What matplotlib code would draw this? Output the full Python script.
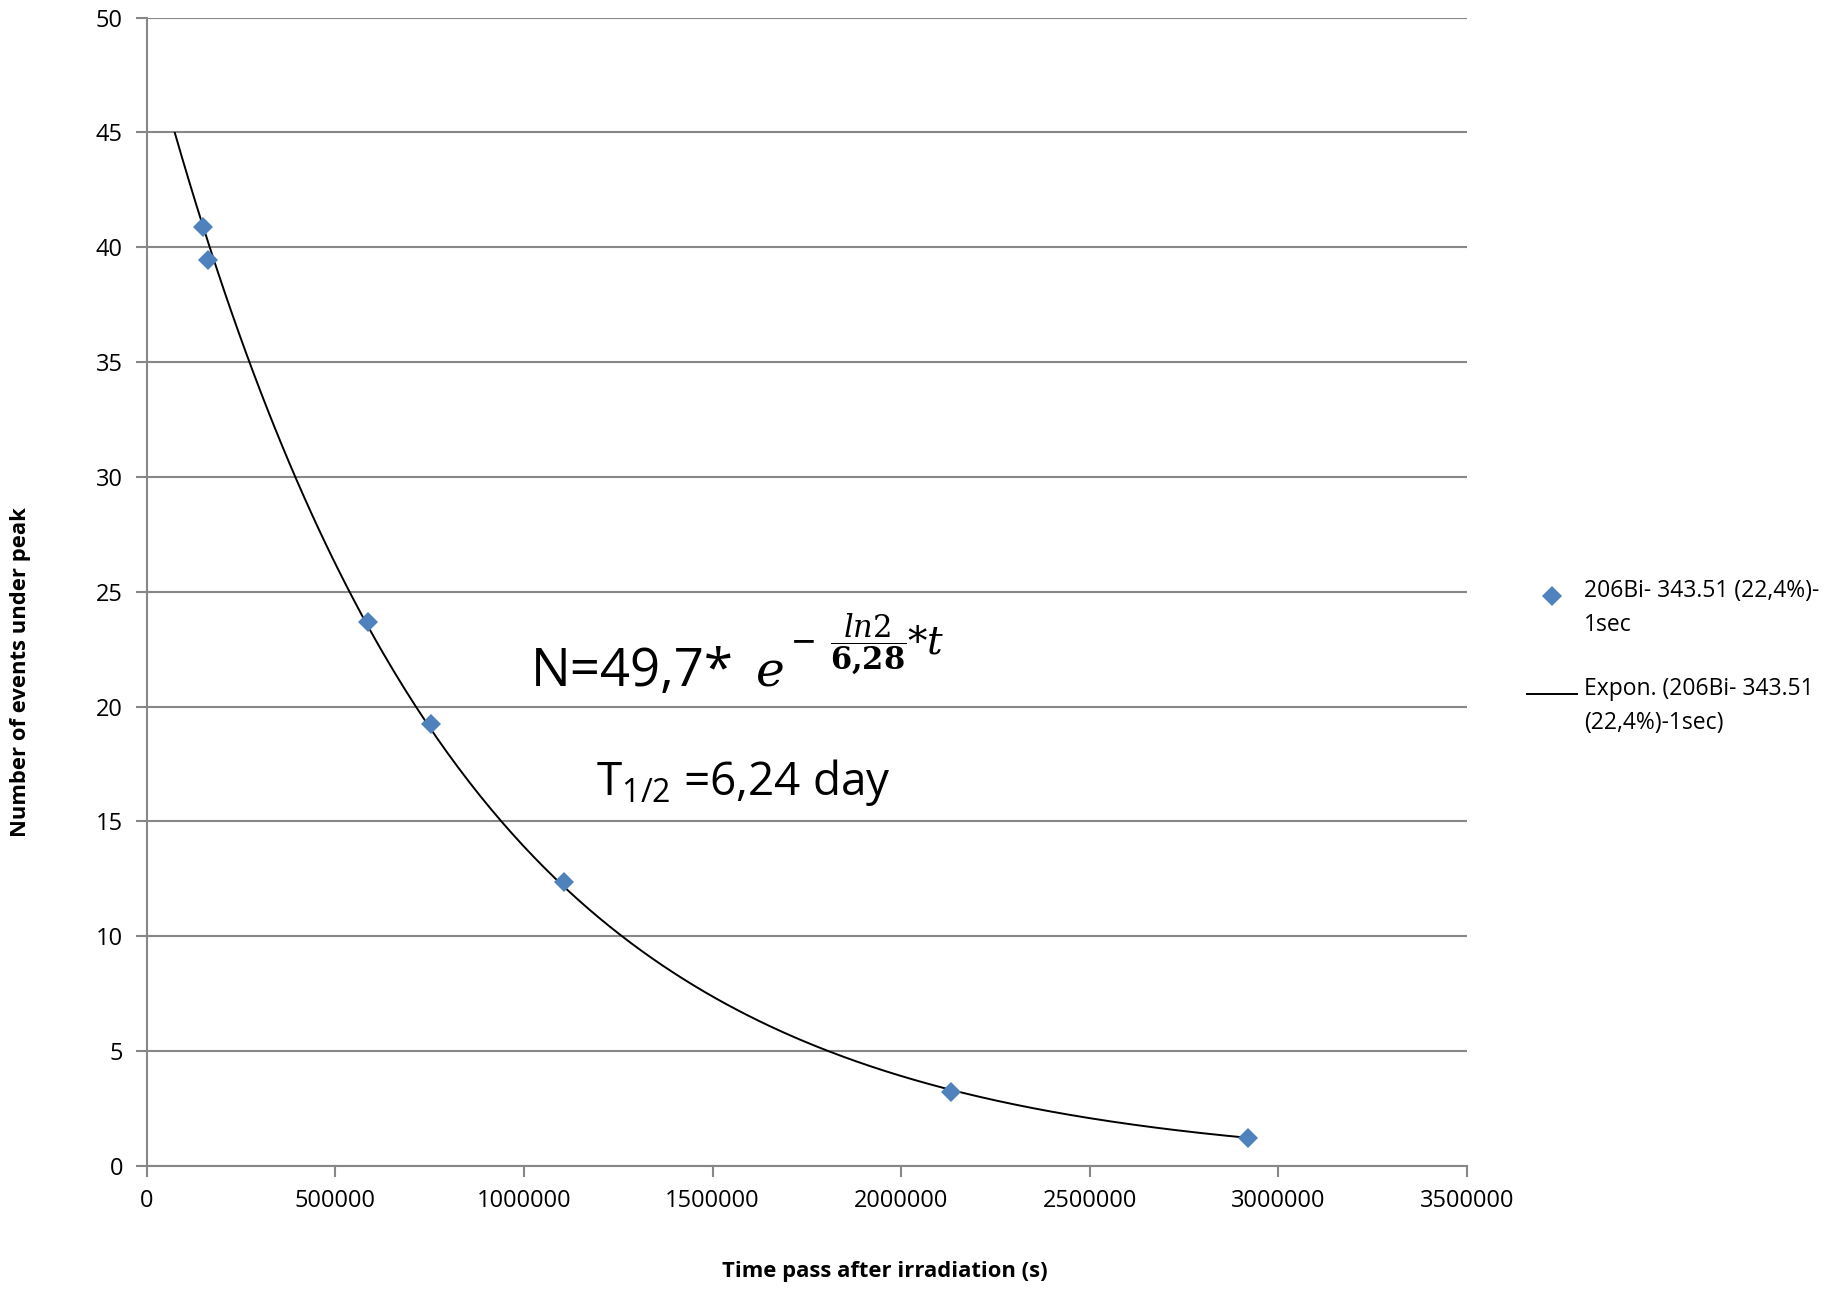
"""
Decaimiento 206Bi: eventos bajo el pico vs tiempo tras irradiación
"""

import numpy as np
import matplotlib.pyplot as plt
from matplotlib.lines import Line2D

plt.rcParams['font.family'] = ['Open Sans', 'DejaVu Sans']
plt.rcParams['mathtext.fontset'] = 'custom'
plt.rcParams['mathtext.rm'] = 'Open Sans'

# datos
time_s = [149000, 161600, 587300, 755100, 1106300, 2131700, 2918000]
events = [40.9, 39.43, 23.70, 19.25, 12.36, 3.22, 1.23]
trend_start = 75000

series_label = '206Bi- 343.51 (22,4%)-\n1sec'
trend_label = 'Expon. (206Bi- 343.51\n(22,4%)-1sec)'

x_ticks = [0, 500000, 1000000, 1500000, 2000000, 2500000, 3000000, 3500000]
y_ticks = [0, 5, 10, 15, 20, 25, 30, 35, 40, 45, 50]

GRID = '#878787'
BLUE = '#4F81BD'

# ajuste exponencial (como la línea de tendencia de Excel)
x = np.array(time_s, dtype=float)
y = np.array(events, dtype=float)
slope, icpt = np.polyfit(x, np.log(y), 1)
xt = np.linspace(trend_start, x.max(), 300)
yt = np.exp(icpt) * np.exp(slope * xt)

fig = plt.figure(figsize=(18.39, 12.89), dpi=100)
ax = fig.add_axes([0.0797, 0.0956, 0.7181, 0.8907])

ax.plot(xt, yt, color='black', lw=1.4, zorder=3)
ax.plot(x, y, 'D', color=BLUE, markersize=10.5, markeredgewidth=0, zorder=4)

ax.set_xlim(0, 3500000)
ax.set_ylim(0, 50)
ax.set_xticks(x_ticks)
ax.set_yticks(y_ticks)
ax.set_xticklabels([str(v) for v in x_ticks])
ax.set_yticklabels([str(v) for v in y_ticks])
ax.tick_params(axis='both', labelsize=17, color=GRID, length=8, width=1.5,
               direction='out')
ax.tick_params(axis='x', pad=9)
ax.tick_params(axis='y', pad=9)
ax.grid(True, axis='y', color=GRID, lw=1.5)
ax.set_axisbelow(True)
for s in ['top', 'right']:
    ax.spines[s].set_visible(False)
for s in ['left', 'bottom']:
    ax.spines[s].set_color(GRID)
    ax.spines[s].set_linewidth(1.5)

# etiquetas de ejes
fig.text(885 / 1839, 1 - 1272 / 1289, 'Time pass after irradiation (s)',
         ha='center', va='center', fontsize=15.8, fontweight='bold')
fig.text(21 / 1839, 1 - 672 / 1289, 'Number of events under peak',
         ha='center', va='center', rotation=90, fontsize=15.8,
         fontweight='bold')

# ecuación y semivida
fig.text(531 / 1839, 1 - 686 / 1289, 'N=49,7*', fontsize=38, va='baseline')
fig.text(756 / 1839, 1 - 686 / 1289, 'e', fontsize=35, va='baseline',
         family='DejaVu Serif', style='italic')
fig.text(791 / 1839, 1 - 643 / 1289, r'$-$', fontsize=30, va='center')
fig.text(868 / 1839, 1 - 644 / 1289,
         r'$\dfrac{\mathit{ln}\mathit{2}}{\mathbf{6{,}28}}$',
         fontsize=22, va='center', ha='center', math_fontfamily='dejavuserif')
fig.text(907 / 1839, 1 - 643 / 1289, r'$*\mathit{t}$', fontsize=28,
         va='center', math_fontfamily='dejavuserif')
fig.text(596 / 1839, 1 - 795 / 1289, r'T$_{\mathrm{1/2}}$ =6,24 day',
         fontsize=33, va='baseline')

# leyenda manual al estilo Excel
fig.add_artist(Line2D([1551.6 / 1839], [1 - 595.8 / 1289], marker='D',
                      color=BLUE, markersize=10.5, markeredgewidth=0,
                      transform=fig.transFigure))
fig.add_artist(Line2D([1527 / 1839, 1577 / 1839], [1 - 694.3 / 1289] * 2,
                      color='black', lw=1.4, transform=fig.transFigure))
fig.text(1584 / 1839, 1 - 579 / 1289, series_label, fontsize=16.5,
         va='top', linespacing=1.55)
fig.text(1584 / 1839, 1 - 677 / 1289, trend_label, fontsize=16.5,
         va='top', linespacing=1.55)

plt.savefig('out.png', dpi=100)
